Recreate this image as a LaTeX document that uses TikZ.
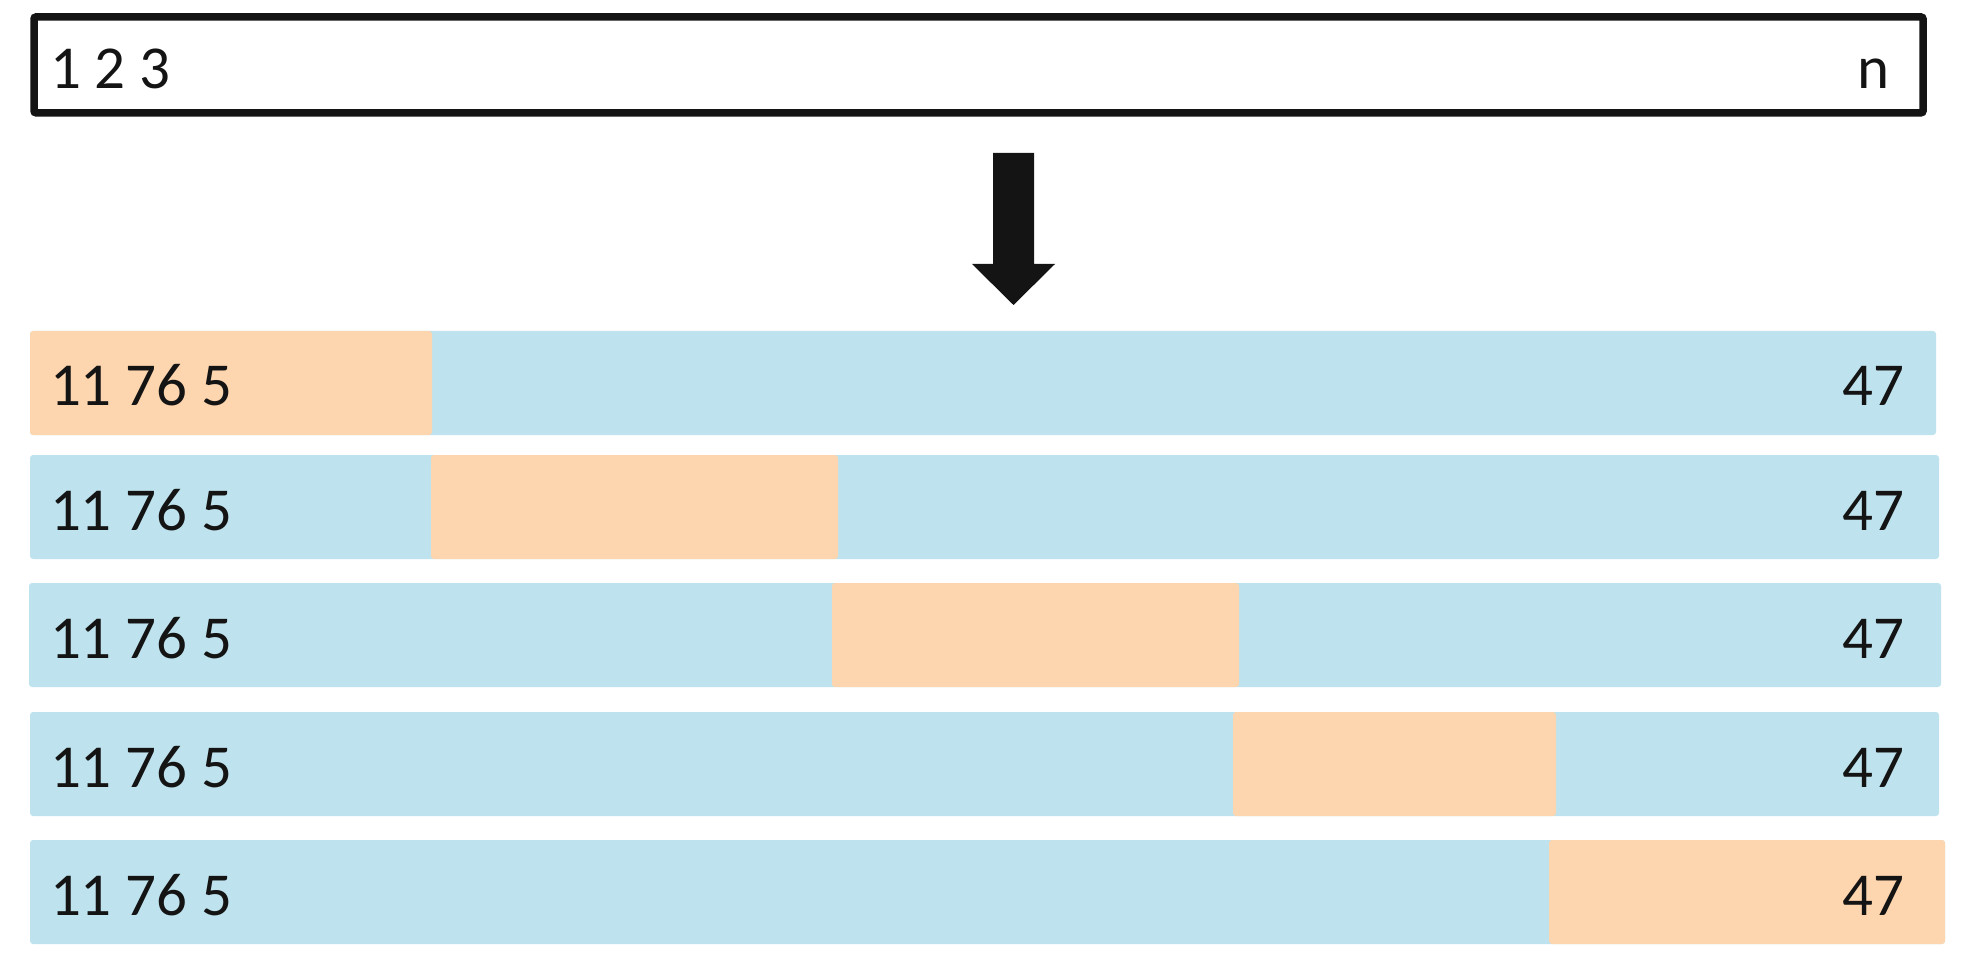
\documentclass[tikz,border=0pt]{standalone}
\usepackage{fontspec}
\setmainfont{Carlito}
\definecolor{rowblue}{RGB}{190,227,238}
\definecolor{rowpeach}{RGB}{253,213,174}
\definecolor{ink}{RGB}{20,20,20}
\begin{document}
\begin{tikzpicture}[x=1pt,y=-1pt,
  lbl/.style={inner sep=0pt, outer sep=0pt, font=\fontsize{61}{70}\selectfont, text=ink},
  box/.style={inner sep=0pt, outer sep=0pt, anchor=north west, minimum height=104pt},
  bar/.style={box, fill=rowblue, rounded corners=3pt},
  hot/.style={box, fill=rowpeach, rounded corners=3pt}]
\useasboundingbox (0,0) rectangle (1965,957);
% top sequence box
\node[draw=ink, line width=7.5pt, rounded corners=2pt, inner sep=0pt, outer sep=0pt,
      minimum width=1889pt, minimum height=95.8pt, anchor=north west] (top) at (34,17) {};
\node[lbl, anchor=base west] (t1) at (50,89) {1 2 3};
\node[lbl, anchor=base east] (tn) at (1890,89) {n};
% arrow
\coordinate (a1) at (993,153);
\coordinate (a2) at (1034,153);
\coordinate (a3) at (1034,264);
\coordinate (a4) at (1055,264);
\coordinate (tip) at (1013.5,305);
\coordinate (a6) at (972,264);
\coordinate (a7) at (993,264);
\fill[ink] (a1) -- (a2) -- (a3) -- (a4) -- (tip) -- (a6) -- (a7) -- cycle;
% rows
\node[bar, minimum width=1906pt] (r1) at (30,331) {};
\node[hot, minimum width=402pt] (h1) at (30,331) {};
\node[bar, minimum width=1909pt] (r2) at (30,455) {};
\node[hot, minimum width=407pt] (h2) at (431,455) {};
\node[bar, minimum width=1912pt] (r3) at (29,583) {};
\node[hot, minimum width=407pt] (h3) at (832,583) {};
\node[bar, minimum width=1909pt] (r4) at (30,712) {};
\node[hot, minimum width=323pt] (h4) at (1233,712) {};
\node[bar, minimum width=1915pt] (r5) at (30,840) {};
\node[hot, minimum width=396pt] (h5) at (1549,840) {};
% row labels
\foreach \i/\y in {1/406,2/530,3/658,4/787,5/915}{
  \node[lbl, anchor=base west] (l\i) at (50,\y) {11 76 5};
  \node[lbl, anchor=base east] (e\i) at (1904,\y) {47};
}
\end{tikzpicture}
\end{document}
